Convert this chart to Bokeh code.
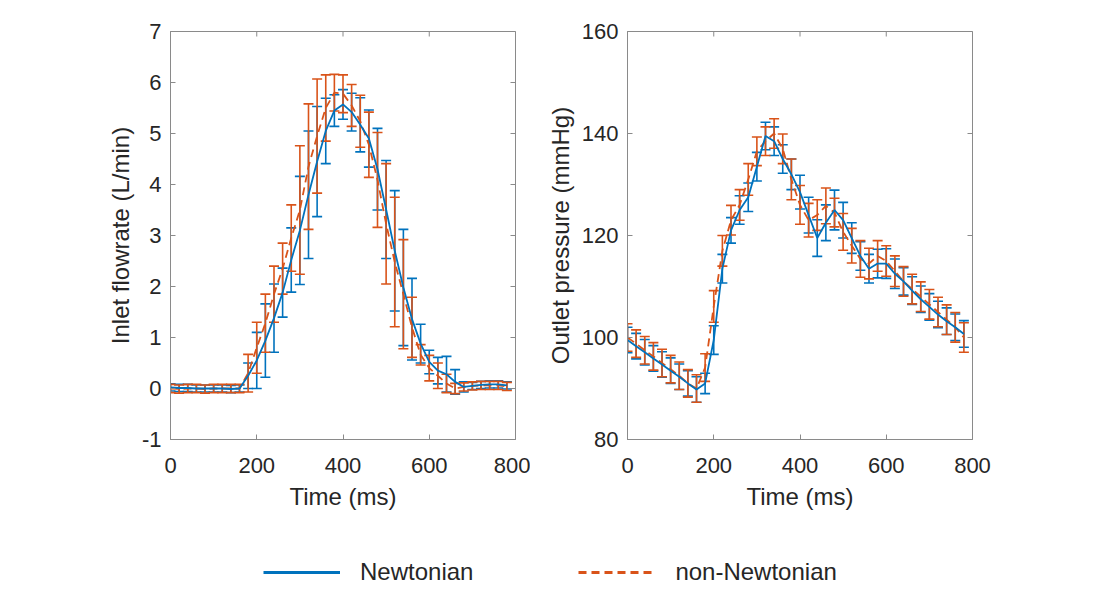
import math
from bokeh.plotting import figure
from bokeh.models import (Range1d, Whisker, TeeHead, ColumnDataSource,
                          FixedTicker, Legend, LegendItem)
from bokeh.layouts import column, row
from bokeh.embed import file_html
from bokeh.resources import INLINE

# ---------------- data ----------------
time_ms = [0, 20, 40, 60, 80, 100, 120, 140, 160, 180, 200, 220, 240, 260, 280, 300,
           320, 340, 360, 380, 400, 420, 440, 460, 480, 500, 520, 540, 560, 580, 600,
           620, 640, 660, 680, 700, 720, 740, 760, 780]

flow_newt = [0.02, 0.01, 0.01, 0.0, 0.0, 0.0, 0.0, -0.01, 0.0, 0.25, 0.55, 0.94, 1.38,
             1.88, 2.52, 3.10, 3.80, 4.45, 5.05, 5.45, 5.57, 5.42, 5.17, 4.90, 4.30,
             3.51, 2.70, 1.98, 1.36, 0.88, 0.52, 0.35, 0.28, 0.13, 0.03, 0.05, 0.07,
             0.08, 0.08, 0.06]
flow_newt_err = [0.07, 0.07, 0.07, 0.07, 0.07, 0.07, 0.07, 0.07, 0.07, 0.25, 0.55, 0.72,
                 0.67, 0.48, 0.63, 1.06, 1.25, 1.08, 0.64, 0.31, 0.29, 0.37, 0.53, 0.56,
                 0.80, 0.96, 1.18, 1.14, 0.80, 0.38, 0.23, 0.26, 0.35, 0.24, 0.10, 0.07,
                 0.07, 0.07, 0.07, 0.07]
flow_nonnewt = [0.0, -0.01, 0.0, 0.0, -0.01, 0.0, 0.0, 0.0, 0.0, 0.30, 0.80, 1.28, 1.85,
                2.35, 2.95, 3.50, 4.35, 4.95, 5.50, 5.80, 5.78, 5.55, 5.24, 4.78, 4.09,
                3.23, 2.48, 1.85, 1.20, 0.66, 0.40, 0.25, 0.10, 0.0, 0.03, 0.05, 0.06,
                0.06, 0.06, 0.04]
flow_nonnewt_err = [0.08, 0.08, 0.08, 0.08, 0.08, 0.08, 0.08, 0.08, 0.08, 0.37, 0.50,
                    0.57, 0.55, 0.50, 0.65, 1.26, 1.23, 1.12, 0.65, 0.36, 0.37, 0.41,
                    0.51, 0.64, 0.93, 1.18, 1.27, 1.07, 0.59, 0.20, 0.25, 0.25, 0.18,
                    0.10, 0.08, 0.08, 0.08, 0.08, 0.08, 0.08]

pres_newt = [99.5, 98.3, 97.1, 95.9, 94.7, 93.5, 92.3, 91.0, 89.8, 91.0, 99.5, 113.5,
             121.0, 125.0, 127.5, 133.5, 139.5, 138.5, 135.0, 132.0, 128.5, 124.0, 119.5,
             122.5, 125.0, 123.0, 119.5, 116.0, 113.5, 114.5, 114.5, 112.5, 111.0, 109.2,
             107.5, 106.0, 104.5, 103.2, 102.0, 100.7]
pres_newt_err = [2.5, 2.5, 2.5, 2.5, 2.5, 2.5, 2.5, 2.5, 2.5, 2.0, 2.8, 2.8, 2.5, 2.8,
                 2.8, 2.8, 2.7, 2.8, 2.8, 3.0, 3.3, 3.5, 3.6, 3.5, 3.9, 3.5, 3.0, 2.8,
                 2.8, 2.8, 2.9, 2.9, 2.7, 2.7, 2.6, 2.6, 2.6, 2.6, 2.6, 2.6]
pres_nonnewt = [100.0, 98.8, 97.5, 96.3, 95.0, 93.8, 92.5, 91.0, 90.0, 94.1, 106.1,
                117.0, 123.0, 126.0, 131.0, 136.5, 138.5, 140.0, 137.0, 131.0, 126.0,
                123.0, 124.0, 125.8, 124.5, 120.7, 118.0, 115.4, 114.5, 116.0, 115.0,
                113.0, 111.0, 109.5, 108.0, 106.5, 105.0, 103.5, 102.0, 100.0]
pres_nonnewt_err = [2.7, 2.7, 2.7, 2.7, 2.7, 2.7, 2.7, 2.7, 2.7, 2.7, 3.1, 3.0, 2.9, 3.0,
                    3.1, 2.8, 2.8, 2.9, 2.9, 4.0, 3.8, 3.3, 3.0, 3.5, 2.8, 3.6, 3.4, 3.6,
                    3.0, 3.0, 3.0, 3.0, 2.9, 2.9, 2.9, 2.9, 2.9, 2.9, 2.9, 2.9]

x_ticks = [0, 200, 400, 600, 800]
flow_ticks = [-1, 0, 1, 2, 3, 4, 5, 6, 7]
pres_ticks = [80, 100, 120, 140, 160]

series_names = ["Newtonian", "non-Newtonian"]

# ---------------- style ----------------
FONT = "Liberation Sans"
BLUE = "#0072BD"
ORANGE = "#D95319"
TXT = "#262626"
BOX = "#8a8a8a"
DASH = "8 5"


def add_errorbars(p, t, mean, err, color):
    src = ColumnDataSource(dict(t=t,
                                upper=[m + e for m, e in zip(mean, err)],
                                lower=[m - e for m, e in zip(mean, err)]))
    w = Whisker(base="t", upper="upper", lower="lower", source=src,
                line_color=color, line_width=1.6,
                upper_head=TeeHead(size=10, line_color=color, line_width=1.6),
                lower_head=TeeHead(size=10, line_color=color, line_width=1.6))
    p.add_layout(w)


def make_panel(width, left, right, yr, yticks, ylabel, mb, eb, mo, eo):
    p = figure(width=width, height=519, x_range=Range1d(0, 800), y_range=Range1d(*yr),
               output_backend="svg", toolbar_location=None,
               min_border_left=left, min_border_right=right,
               min_border_top=31, min_border_bottom=80)
    p.grid.visible = False
    p.background_fill_color = "white"
    p.border_fill_color = "white"
    p.outline_line_color = BOX
    p.outline_line_width = 1
    p.xaxis.ticker = FixedTicker(ticks=x_ticks)
    p.yaxis.ticker = FixedTicker(ticks=yticks)
    p.yaxis.major_label_overrides = {v: str(v) for v in yticks}
    p.xaxis.axis_label = "Time (ms)"
    p.yaxis.axis_label = ylabel
    for ax in p.axis:
        ax.major_tick_in = 5
        ax.major_tick_out = 0
        ax.minor_tick_in = 0
        ax.minor_tick_out = 0
        ax.axis_line_color = BOX
        ax.major_tick_line_color = BOX
        ax.major_label_text_font = FONT
        ax.major_label_text_font_size = "22px"
        ax.major_label_text_color = TXT
        ax.axis_label_text_font = FONT
        ax.axis_label_text_font_size = "24px"
        ax.axis_label_text_font_style = "normal"
        ax.axis_label_text_color = TXT
    p.xaxis.major_label_standoff = 18
    p.xaxis.axis_label_standoff = 7
    p.yaxis.major_label_standoff = 9
    p.yaxis.axis_label_standoff = 5

    # mirrored inward ticks on the top and right edges (clipped to the frame)
    p.scatter(x_ticks, [yr[1]] * len(x_ticks), marker="dash", angle=math.pi / 2,
              size=10, line_color=BOX, line_width=1)
    p.scatter([800] * len(yticks), yticks, marker="dash",
              size=10, line_color=BOX, line_width=1)

    add_errorbars(p, time_ms, mb, eb, BLUE)
    add_errorbars(p, time_ms, mo, eo, ORANGE)
    p.line(time_ms, mo, line_color=ORANGE, line_width=1.8, line_dash=DASH)
    p.line(time_ms, mb, line_color=BLUE, line_width=1.8)
    return p


p1 = make_panel(530, 170, 15, (-1, 7), flow_ticks, "Inlet flowrate (L/min)",
                flow_newt, flow_newt_err, flow_nonnewt, flow_nonnewt_err)
p2 = make_panel(563, 97, 121, (80, 160), pres_ticks, "Outlet pressure (mmHg)",
                pres_newt, pres_newt_err, pres_nonnewt, pres_nonnewt_err)

p3 = figure(width=1093, height=75, x_range=Range1d(0, 1), y_range=Range1d(0, 1),
            output_backend="svg", toolbar_location=None, min_border=0,
            x_axis_type=None, y_axis_type=None)
p3.grid.visible = False
p3.outline_line_color = None
r1 = p3.line(x=[-5, -4], y=[-5, -4], line_color=BLUE, line_width=2.8)
r2 = p3.line(x=[-5, -4], y=[-5, -4], line_color=ORANGE, line_width=2.8, line_dash=DASH)
legend = Legend(items=[LegendItem(label=series_names[0], renderers=[r1]),
                       LegendItem(label=series_names[1], renderers=[r2])],
                orientation="horizontal", location=(263, 8),
                glyph_width=77, glyph_height=20, label_standoff=20, spacing=105,
                padding=0, margin=0, border_line_color=None, background_fill_alpha=0,
                label_text_font=FONT, label_text_font_size="24px", label_text_color=TXT)
p3.add_layout(legend)

layout = column(row(p1, p2, spacing=0), p3, spacing=0)

with open("out.html", "w") as f:
    f.write(file_html(layout, INLINE))
